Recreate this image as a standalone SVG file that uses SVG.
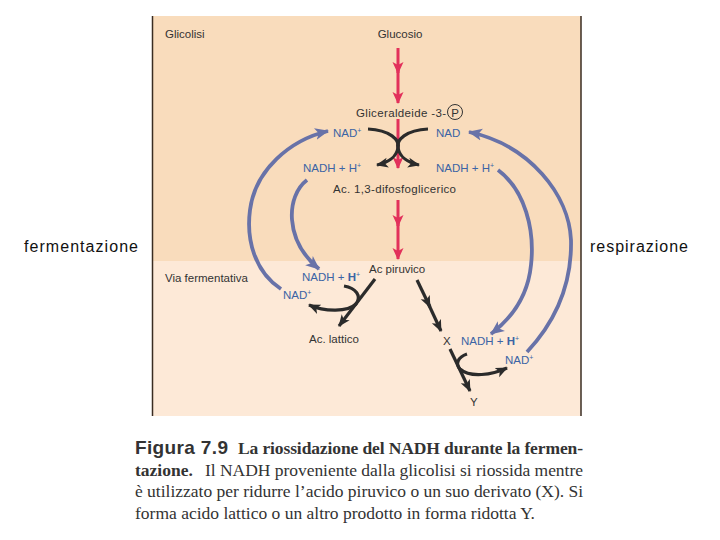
<svg xmlns="http://www.w3.org/2000/svg" width="720" height="540" viewBox="0 0 720 540">
<style>
.lb{font-family:"Liberation Sans",Arial,sans-serif;font-size:11.5px;fill:#333}
.bl{font-family:"Liberation Sans",Arial,sans-serif;font-size:11.5px;fill:#3b64a5}
.side{font-family:"Liberation Sans",Arial,sans-serif;font-size:16px;fill:#111}
.cap{font-family:"Liberation Serif","Times New Roman",serif;font-size:17.5px;fill:#333}
.capb{font-family:"Liberation Serif","Times New Roman",serif;font-size:17.5px;font-weight:bold;fill:#333}
.red{stroke:#e2315b;stroke-width:3;fill:none}
.blk{stroke:#2b2b2b;stroke-width:3.2;fill:none}
.blu{stroke:#6872a8;stroke-width:3.8;fill:none}
</style>
<defs>
<marker id="ar" markerUnits="userSpaceOnUse" markerWidth="12" markerHeight="14" viewBox="0 0 12 14" refX="11" refY="7" orient="auto"><path d="M0,1.5 L12,7 L0,12.5 L3,7 Z" fill="#e2315b"/></marker>
<marker id="ak" markerUnits="userSpaceOnUse" markerWidth="12" markerHeight="12" viewBox="0 0 12 12" refX="11" refY="6" orient="auto"><path d="M0,1 L12,6 L0,11 L3,6 Z" fill="#2b2b2b"/></marker>
<marker id="ab" markerUnits="userSpaceOnUse" markerWidth="14" markerHeight="14" viewBox="0 0 14 14" refX="13" refY="7" orient="auto"><path d="M0,1 L14,7 L0,13 L3.5,7 Z" fill="#6872a8"/></marker>
</defs>
<rect x="0" y="0" width="720" height="540" fill="#fff"/>
<g id="panel">
<rect x="152" y="16" width="429" height="245" fill="#f9dcbc"/>
<rect x="152" y="261" width="429" height="155" fill="#fde9d7"/>
<line x1="152.5" y1="16" x2="152.5" y2="416" stroke="#3a2c22" stroke-width="1.5"/>
<line x1="581" y1="16" x2="581" y2="416" stroke="#3a2c22" stroke-width="1.5"/>
</g>
<g id="connectors">
<path class="red" d="M398,48 V73" marker-end="url(#ar)"/>
<path class="red" d="M398,70 V103" marker-end="url(#ar)"/>
<path class="red" d="M398,119 V168" marker-end="url(#ar)"/>
<path class="red" d="M398,200 V226" marker-end="url(#ar)"/>
<path class="red" d="M398,222 V259" marker-end="url(#ar)"/>
<path class="blk" d="M368,129 C390,130 400,140 398,148 C396,157 390,162 377,165" marker-end="url(#ak)"/>
<path class="blk" d="M428,129 C406,130 396,140 398,148 C400,157 406,162 419,165" marker-end="url(#ak)"/>
<path class="blk" d="M375,279 L339,326" marker-end="url(#ak)"/>
<path class="blk" d="M344,286 C356,288 362,296 356,304 C348,312 325,312 309,305" marker-end="url(#ak)"/>
<path class="blk" d="M417,280 L430,307" marker-end="url(#ak)"/>
<path class="blk" d="M428,303 L441,331" marker-end="url(#ak)"/>
<path class="blk" d="M450,349 L470,391" marker-end="url(#ak)"/>
<path class="blk" d="M467,354 C458,357 455,364 460,369 C470,378 492,375 507,368" marker-end="url(#ak)"/>
<path class="blu" d="M281,289 C255,272 246,240 250,210 C255,170 290,140 328,131" marker-end="url(#ab)"/>
<path class="blu" d="M307,180 C286,196 284,240 319,269" marker-end="url(#ab)"/>
<path class="blu" d="M527,352 C555,322 572,285 571,240 C569,195 530,145 469,132" marker-end="url(#ab)"/>
<path class="blu" d="M498,170 C525,190 535,230 531,265 C528,295 512,318 491,334" marker-end="url(#ab)"/>
</g>
<g id="n-glicolisi"><text class="lb" x="165" y="37.5">Glicolisi</text></g>
<g id="n-glucosio"><text class="lb" x="400" y="37.5" text-anchor="middle">Glucosio</text></g>
<g id="n-gliceraldeide"><text class="lb" x="356" y="116.5" textLength="90">Gliceraldeide -3-</text>
<circle cx="455" cy="112" r="7.5" fill="none" stroke="#333" stroke-width="1"/>
<text class="lb" x="455" y="116.5" text-anchor="middle">P</text></g>
<g id="n-nad-tl"><text class="bl" x="333" y="137">NAD<tspan font-size="7" dy="-4">+</tspan></text></g>
<g id="n-nad-tr"><text class="bl" x="436" y="137">NAD</text></g>
<g id="n-nadh-tl"><text class="bl" x="303" y="172">NADH + H<tspan font-size="7" dy="-4">+</tspan></text></g>
<g id="n-nadh-tr"><text class="bl" x="436" y="172">NADH + H<tspan font-size="7" dy="-4">+</tspan></text></g>
<g id="n-difosfo"><text class="lb" x="333" y="193" textLength="123">Ac. 1,3-difosfoglicerico</text></g>
<g id="n-piruvico"><text class="lb" x="369" y="273">Ac piruvico</text></g>
<g id="n-via"><text class="lb" x="165" y="282">Via fermentativa</text></g>
<g id="n-nadh-bl"><text class="bl" x="302" y="281">NADH + <tspan font-weight="bold">H</tspan><tspan font-size="7" dy="-4">+</tspan></text></g>
<g id="n-nad-bl"><text class="bl" x="283" y="299">NAD<tspan font-size="7" dy="-4">+</tspan></text></g>
<g id="n-lattico"><text class="lb" x="309" y="343">Ac. lattico</text></g>
<g id="n-x"><text class="lb" x="443" y="345">X</text></g>
<g id="n-nadh-br"><text class="bl" x="461" y="345">NADH + <tspan font-weight="bold">H</tspan><tspan font-size="7" dy="-4">+</tspan></text></g>
<g id="n-nad-br"><text class="bl" x="505" y="364">NAD<tspan font-size="7" dy="-4">+</tspan></text></g>
<g id="n-y"><text class="lb" x="470" y="406">Y</text></g>
<g id="n-ferm"><text class="side" x="24" y="252" textLength="114">fermentazione</text></g>
<g id="n-resp"><text class="side" x="590" y="252" textLength="98">respirazione</text></g>
<g id="caption">
<text x="135" y="454" font-family="'Liberation Sans',Arial,sans-serif" font-size="19" font-weight="bold" fill="#333" textLength="93">Figura 7.9</text>
<text class="capb" x="238" y="454" textLength="345">La riossidazione del NADH durante la fermen-</text>
<text class="capb" x="135" y="475.5">tazione.</text>
<text class="cap" x="205" y="475.5" textLength="378">Il NADH proveniente dalla glicolisi si riossida mentre</text>
<text class="cap" x="135" y="497" textLength="448">è utilizzato per ridurre l’acido piruvico o un suo derivato (X). Si</text>
<text class="cap" x="135" y="518.5">forma acido lattico o un altro prodotto in forma ridotta Y.</text>
</g>
</svg>
